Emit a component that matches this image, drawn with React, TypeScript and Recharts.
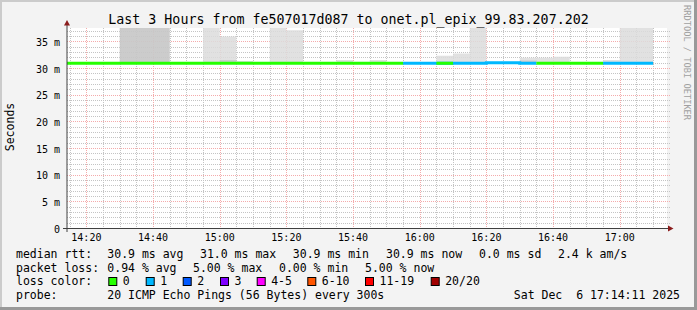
import { ComposedChart, Area, Line, XAxis, YAxis } from "recharts";

// 5 minute steps, value covers [time, next time)
const times = [
  "14:10", "14:15", "14:20", "14:25", "14:30", "14:35", "14:40", "14:45", "14:50", "14:55",
  "15:00", "15:05", "15:10", "15:15", "15:20", "15:25", "15:30", "15:35", "15:40", "15:45",
  "15:50", "15:55", "16:00", "16:05", "16:10", "16:15", "16:20", "16:25", "16:30", "16:35",
  "16:40", "16:45", "16:50", "16:55", "17:00", "17:05",
];
const lastStepEnd = "17:10";

// median rtt in ms
const medianMs = [
  30.9, 30.9, 30.9, 30.9, 30.9, 30.9, 30.9, 30.9, 30.9, 30.9,
  30.9, 30.9, 30.9, 30.9, 30.9, 30.9, 30.9, 30.9, 30.9, 30.9,
  30.9, 30.9, 30.9, 30.9, 30.9, 30.9, 31.0, 31.0, 30.9, 30.9,
  30.9, 30.9, 30.9, 30.9, 30.9, 30.9,
];

// lost pings out of 20
const lossCount = [
  0, 0, 0, 0, 0, 0, 0, 0, 0, 0,
  0, 0, 0, 0, 0, 0, 0, 0, 0, 0,
  0, 1, 1, 0, 1, 1, 1, 1, 1, 0,
  0, 0, 0, 1, 1, 1,
];

// smoke: highest ping (ms), null = no spread
const smokeMaxMs = [
  null, null, null, null, 41, 41, 41, null, null, 40,
  35.9, 31.3, null, 40, 37.1, null, null, 31.5, null, 31.5,
  null, null, null, 32.3, 32.7, 40, null, null, 31.9, 31.9,
  32.1, null, null, 31.5, 40, 40,
];

// dense part of the smoke (darker gray)
const smokeDenseMs = [
  null, null, null, null, 41, 41, 41, null, null, null,
  31.5, null, null, null, null, null, null, null, null, null,
  null, null, null, null, null, null, null, null, 31.4, null,
  null, null, null, null, null, null,
];

const lossLabels = ["0", "1", "2", "3", "4-5", "6-10", "11-19", "20/20"];
const lossPalette = ["#26ff00", "#00b8ff", "#0059ff", "#7e00ff", "#ff00ff", "#ff5500", "#ff0000", "#a10000"];
const yTicks = [0, 5, 10, 15, 20, 25, 30, 35];
const xTicks = ["14:20", "14:40", "15:00", "15:20", "15:40", "16:00", "16:20", "16:40", "17:00"];

const toMin = (s: string) => {
  const [h, m] = s.split(":").map(Number);
  return h * 60 + m;
};
const fmtTime = (v: number) => {
  const h = Math.floor(v / 60);
  const m = Math.round(v - h * 60);
  return `${h}:${m < 10 ? "0" : ""}${m}`;
};

const lossBucket = (n: number) => (n <= 3 ? n : n <= 5 ? 4 : n <= 10 ? 5 : n < 20 ? 6 : 7);

const allTimes = [...times, lastStepEnd];
const rows = allTimes.map((t, i) => {
  const k = Math.min(i, times.length - 1);
  const med = medianMs[k];
  const row: any = {
    t: toMin(t),
    smoke: [med, smokeMaxMs[k] ?? med],
    dense: [med, smokeDenseMs[k] ?? med],
  };
  lossPalette.forEach((_, b) => {
    const here = i < times.length && lossBucket(lossCount[i]) === b;
    const prev = i > 0 && lossBucket(lossCount[i - 1]) === b;
    row[`l${b}`] = here || prev ? (here ? medianMs[i] : medianMs[i - 1]) : null;
  });
  return row;
});
const usedBuckets = lossPalette.map((_, b) => b).filter((b) => lossCount.some((n) => lossBucket(n) === b));

// plot box (same as chart margins below)
const plot = { left: 67, top: 28, width: 600, height: 200 };
const yMax = 37.5;
const xStart = 854 + 11 / 60; // 14:14:11
const xEnd = xStart + 180;
const px = (v: number) => plot.left + ((v - xStart) / (xEnd - xStart)) * plot.width;
const py = (v: number) => plot.top + plot.height - (v / yMax) * plot.height;

const minorX = allTimes.map(toMin).filter((v) => v > xStart && v < xEnd);
const minorY = Array.from({ length: 37 }, (_, i) => i + 1);

const font = "'DejaVu Sans Mono', monospace";
const minorGrid = "#c4c4c4";
const majorGrid = "#f4abab";
const keepSpaces = (s: string) => s.replace(/ /g, "\u00a0");

const row1: [string, number][] = [
  ["median rtt:", 16], ["30.9 ms avg", 107.3], ["31.0 ms max", 200], ["30.9 ms min", 292.8],
  ["30.9 ms now", 386], ["0.0 ms sd", 479], ["2.4 k am/s", 558],
];
const row2: [string, number][] = [
  ["packet loss:", 16], ["0.94 % avg", 107.3], ["5.00 % max", 193], ["0.00 % min", 279], ["5.00 % now", 365],
];
const boxX = [108.3, 145.7, 182.7, 220, 256.7, 307.3, 365, 430.7];

export default function App() {
  const gx = (v: number) => Math.round(px(v)) + 0.5;
  const gy = (v: number) => Math.round(py(v)) + 0.5;
  return (
    <div style={{ position: "relative", width: 697, height: 310, background: "#f3f3f3", overflow: "hidden" }}>
      <style>{`body{margin:0}`}</style>
      {/* canvas + grid */}
      <svg width={697} height={310} style={{ position: "absolute", left: 0, top: 0 }}>
        <rect x={plot.left} y={plot.top} width={plot.width} height={plot.height} fill="#ffffff" />
        <g strokeDasharray="1 1" strokeWidth={1}>
          {minorX.map((v) => (
            <line key={`mx${v}`} x1={gx(v)} x2={gx(v)} y1={plot.top} y2={plot.top + plot.height} stroke={minorGrid} />
          ))}
          {minorY.map((v) => (
            <line key={`my${v}`} x1={plot.left} x2={plot.left + plot.width + 3} y1={gy(v)} y2={gy(v)} stroke={minorGrid} />
          ))}
          {xTicks.map((t) => (
            <line key={`Mx${t}`} x1={gx(toMin(t))} x2={gx(toMin(t))} y1={plot.top} y2={plot.top + plot.height} stroke={majorGrid} />
          ))}
          {yTicks.slice(1).map((v) => (
            <line key={`My${v}`} x1={plot.left} x2={plot.left + plot.width + 3} y1={gy(v)} y2={gy(v)} stroke={majorGrid} />
          ))}
        </g>
      </svg>
      <div style={{ position: "absolute", left: 0, top: 0 }}>
        <ComposedChart width={697} height={310} data={rows} margin={{ top: 28, right: 30, left: 7, bottom: 52 }}>
          <XAxis
            dataKey="t"
            type="number"
            domain={[xStart, xEnd]}
            allowDataOverflow
            ticks={xTicks.map(toMin)}
            tickFormatter={fmtTime}
            axisLine={false}
            tickLine={false}
            tickSize={0}
            tickMargin={6}
            height={30}
            tick={{ fill: "#000", fontSize: 10, fontFamily: font }}
          />
          <YAxis
            type="number"
            domain={[0, yMax]}
            allowDataOverflow
            ticks={yTicks}
            tickFormatter={(v: number) => (v === 0 ? "0" : `${v} m`)}
            axisLine={false}
            tickLine={false}
            tickSize={0}
            tickMargin={7}
            width={60}
            tick={{ fill: "#000", fontSize: 10, fontFamily: font, dy: 1 }}
          />
          <Area type="stepAfter" dataKey="smoke" stroke="none" fill="#dcdcdc" fillOpacity={0.85} isAnimationActive={false} dot={false} activeDot={false} />
          <Area type="stepAfter" dataKey="dense" stroke="none" fill="#b4b4b4" fillOpacity={0.45} isAnimationActive={false} dot={false} activeDot={false} />
          {[...usedBuckets].reverse().map((b) => (
            <Line
              key={b}
              type="stepAfter"
              dataKey={`l${b}`}
              stroke={lossPalette[b]}
              strokeWidth={3}
              dot={false}
              activeDot={false}
              isAnimationActive={false}
            />
          ))}
        </ComposedChart>
      </div>
      <svg width={697} height={310} style={{ position: "absolute", left: 0, top: 0, pointerEvents: "none" }} fontFamily={font}>
        {/* frame */}
        <rect x={0} y={0} width={697} height={2} fill="#cbcbcb" />
        <rect x={0} y={0} width={2} height={310} fill="#cbcbcb" />
        <rect x={0} y={307} width={697} height={3} fill="#999999" />
        <rect x={694} y={0} width={3} height={310} fill="#999999" />
        {/* axes */}
        <line x1={67} y1={22} x2={67} y2={232} stroke="#404040" strokeWidth={1} />
        <line x1={63} y1={228.5} x2={669} y2={228.5} stroke="#404040" strokeWidth={1} />
        <polygon points="64,25.5 70,25.5 67,20" fill="#8b1c1c" />
        <polygon points="668,225.5 668,231.5 673.5,228.5" fill="#8b1c1c" />
        <text x={348.5} y={24} textAnchor="middle" fontSize={13.3} fill="#000">
          Last 3 Hours from fe507017d087 to onet.pl_epix_99.83.207.202
        </text>
        <text transform="translate(14,127) rotate(-90)" textAnchor="middle" fontSize={11.5} fill="#000">
          Seconds
        </text>
        <text transform="translate(684,5) rotate(90)" fontSize={8.7} fill="#a0a0a0">
          RRDTOOL / TOBI OETIKER
        </text>
        {/* legend */}
        <g fontSize={11.5} fill="#000">
          {row1.map(([s, x]) => (
            <text key={s} x={x} y={257.5}>{s}</text>
          ))}
          {row2.map(([s, x]) => (
            <text key={s} x={x} y={271.5}>{s}</text>
          ))}
          <text x={16} y={285.3}>loss color:</text>
          {lossLabels.map((l, i) => (
            <g key={l}>
              <rect x={boxX[i] + 0.5} y={277.5} width={8} height={8} fill={lossPalette[i]} stroke="#000" strokeWidth={1} />
              <text x={boxX[i] + 14.5} y={285.3}>{l}</text>
            </g>
          ))}
          <text x={16} y={299.2}>probe:</text>
          <text x={107.3} y={299.2}>20 ICMP Echo Pings (56 Bytes) every 300s</text>
          <text x={680} y={299.2} textAnchor="end">{keepSpaces("Sat Dec  6 17:14:11 2025")}</text>
        </g>
      </svg>
    </div>
  );
}
